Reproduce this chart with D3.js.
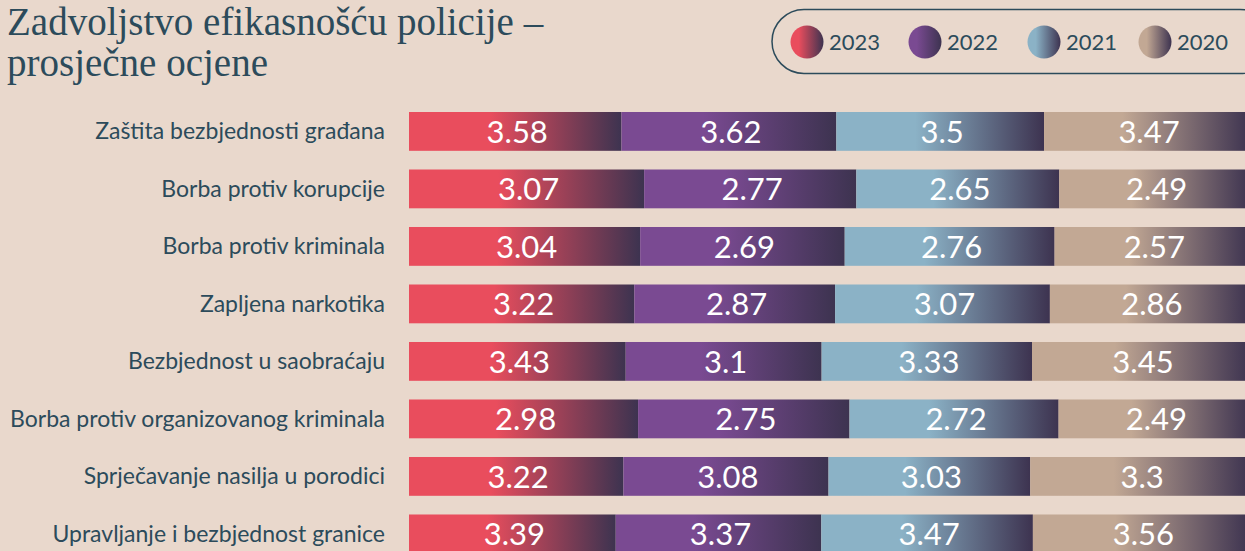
<!DOCTYPE html>
<html>
<head>
<meta charset="utf-8">
<script src="https://cdn.jsdelivr.net/npm/d3@7"></script>
<style>
  html, body { margin: 0; padding: 0; background: #e9d8cc; overflow: hidden; }
  svg { display: block; }
</style>
</head>
<body>
<div id="box"></div>
<script>
var w = 1245,
    h = 551;

var categories = [
  "Zaštita bezbjednosti građana",
  "Borba protiv korupcije",
  "Borba protiv kriminala",
  "Zapljena narkotika",
  "Bezbjednost u saobraćaju",
  "Borba protiv organizovanog kriminala",
  "Sprječavanje nasilja u porodici",
  "Upravljanje i bezbjednost granice"
];

var years = ["2023", "2022", "2021", "2020"];

var v2023 = [3.58, 3.07, 3.04, 3.22, 3.43, 2.98, 3.22, 3.39];
var v2022 = [3.62, 2.77, 2.69, 2.87, 3.1, 2.75, 3.08, 3.37];
var v2021 = [3.5, 2.65, 2.76, 3.07, 3.33, 2.72, 3.03, 3.47];
var v2020 = [3.47, 2.49, 2.57, 2.86, 3.45, 2.49, 3.3, 3.56];

var colors = ["#e94d5d", "#7a4a92", "#8bb2c6", "#c2a894"];
var darkEnd = "#3d3350";
var ink = "#2c4b5b";

// build rows for the stack
var rows = categories.map(function(c, i) {
  return { cat: c, "2023": v2023[i], "2022": v2022[i], "2021": v2021[i], "2020": v2020[i] };
});

var stacked = d3.stack()
    .keys(years)
    .offset(d3.stackOffsetExpand)(rows);

var x = d3.scaleLinear().domain([0, 1]).range([409, 1250]);
var y = d3.scaleBand()
    .domain(categories)
    .range([112, 553.3])
    .paddingInner(0.325)
    .paddingOuter(0);

var svg = d3.select("#box")
    .append("svg")
    .attr("width", w)
    .attr("height", h);

var defs = svg.append("defs");
years.forEach(function(yr, i) {
  var g = defs.append("linearGradient")
      .attr("id", "g" + yr)
      .attr("x1", "0").attr("x2", "1")
      .attr("y1", "0").attr("y2", "0");
  g.append("stop").attr("offset", "0.38").attr("stop-color", colors[i]);
  g.append("stop").attr("offset", "1").attr("stop-color", darkEnd);

  var gc = defs.append("linearGradient")
      .attr("id", "c" + yr)
      .attr("x1", "0").attr("x2", "1")
      .attr("y1", "0").attr("y2", "0");
  gc.append("stop").attr("offset", "0.25").attr("stop-color", colors[i]);
  gc.append("stop").attr("offset", "1").attr("stop-color", darkEnd);
});

// title
var title = svg.append("text")
    .attr("font-family", "'Liberation Serif', 'DejaVu Serif', serif")
    .attr("font-size", "39px")
    .attr("fill", ink);
title.append("tspan").attr("x", 7).attr("y", 35).text("Zadvoljstvo efikasnošću policije –");
title.append("tspan").attr("x", 7).attr("y", 76).text("prosječne ocjene");

// legend
svg.append("rect")
    .attr("x", 772)
    .attr("y", 9.5)
    .attr("width", 500)
    .attr("height", 64)
    .attr("rx", 32)
    .attr("fill", "none")
    .attr("stroke", ink)
    .attr("stroke-width", 1.5);

var legendX = [807, 925, 1044, 1155];
var leg = svg.selectAll("g.leg")
    .data(years)
    .enter()
    .append("g")
    .attr("class", "leg")
    .attr("transform", function(d, i) { return "translate(" + legendX[i] + ",42)"; });

leg.append("circle")
    .attr("r", 16.5)
    .attr("fill", function(d) { return "url(#c" + d + ")"; });

leg.append("text")
    .attr("x", 22)
    .attr("dy", "0.36em")
    .attr("font-family", "Lato, sans-serif")
    .attr("font-size", "22px")
    .attr("fill", ink)
    .text(function(d) { return d; });

// category labels
svg.selectAll("text.cat")
    .data(categories)
    .enter()
    .append("text")
    .attr("class", "cat")
    .attr("x", 385)
    .attr("y", function(d) { return y(d) + y.bandwidth() / 2; })
    .attr("dy", "0.35em")
    .attr("text-anchor", "end")
    .attr("font-family", "Lato, sans-serif")
    .attr("font-size", "23px")
    .attr("fill", ink)
    .text(function(d) { return d; });

// bars
var layer = svg.selectAll("g.layer")
    .data(stacked)
    .enter()
    .append("g")
    .attr("class", "layer");

layer.selectAll("rect")
    .data(function(d) { return d.map(function(p) { return { key: d.key, p: p }; }); })
    .enter()
    .append("rect")
    .attr("x", function(d) { return x(d.p[0]); })
    .attr("y", function(d) { return y(d.p.data.cat); })
    .attr("width", function(d) { return x(d.p[1]) - x(d.p[0]); })
    .attr("height", y.bandwidth())
    .attr("fill", function(d) { return "url(#g" + d.key + ")"; });

layer.selectAll("text")
    .data(function(d) { return d.map(function(p) { return { key: d.key, p: p }; }); })
    .enter()
    .append("text")
    .attr("x", function(d) { return (x(d.p[0]) + x(d.p[1])) / 2 + 2; })
    .attr("y", function(d) { return y(d.p.data.cat) + y.bandwidth() / 2; })
    .attr("dy", "0.36em")
    .attr("text-anchor", "middle")
    .attr("font-family", "Lato, sans-serif")
    .attr("font-size", "31px")
    .attr("fill", "#ffffff")
    .text(function(d) { return d.p.data[d.key]; });
</script>
</body>
</html>
